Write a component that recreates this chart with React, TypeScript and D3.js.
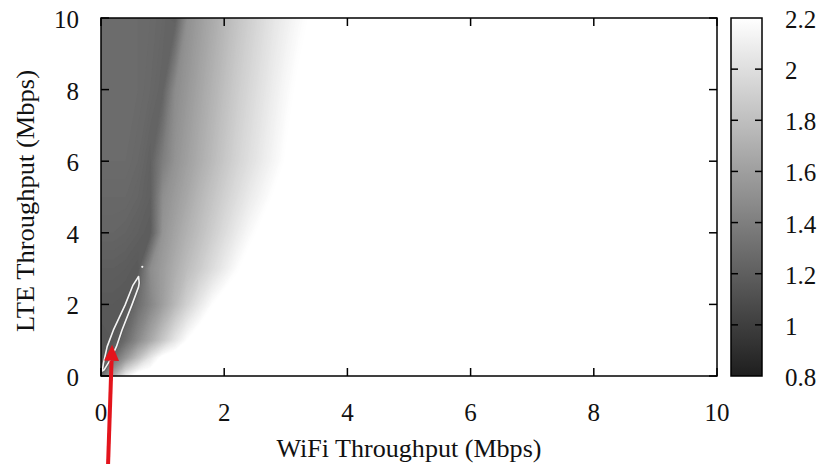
import React from 'react';
import * as d3 from 'd3';

const W = 822;
const H = 464;

// axis ticks
const xTicks = [0, 2, 4, 6, 8, 10];
const yTicks = [0, 2, 4, 6, 8, 10];
const cbTicks = [0.8, 1, 1.2, 1.4, 1.6, 1.8, 2, 2.2];

// heat-map sampling grid (WiFi along x, LTE along y)
const gridWifi = [0, 0.2, 0.4, 0.6, 0.8, 1.0, 1.2, 1.4, 1.6, 1.8, 2.0, 2.2, 2.4, 2.6, 2.8, 3.0, 3.2, 3.4, 3.6];
const gridLte = [0, 0.5, 1, 2, 3, 4, 5, 6, 8, 10];

const rowLte0 = [1.30, 1.70, 2.10, 2.30, 2.30, 2.30, 2.30, 2.30, 2.30, 2.30, 2.30, 2.30, 2.30, 2.30, 2.30, 2.30, 2.30, 2.30, 2.30];
const rowLte05 = [1.15, 1.30, 1.55, 1.80, 2.05, 2.25, 2.30, 2.30, 2.30, 2.30, 2.30, 2.30, 2.30, 2.30, 2.30, 2.30, 2.30, 2.30, 2.30];
const rowLte1 = [1.15, 1.16, 1.29, 1.48, 1.66, 1.85, 2.04, 2.20, 2.30, 2.30, 2.30, 2.30, 2.30, 2.30, 2.30, 2.30, 2.30, 2.30, 2.30];
const rowLte2 = [1.17, 1.17, 1.16, 1.30, 1.45, 1.60, 1.76, 1.92, 2.06, 2.19, 2.28, 2.30, 2.30, 2.30, 2.30, 2.30, 2.30, 2.30, 2.30];
const rowLte3 = [1.20, 1.20, 1.19, 1.17, 1.49, 1.59, 1.69, 1.79, 1.88, 1.98, 2.08, 2.18, 2.26, 2.30, 2.30, 2.30, 2.30, 2.30, 2.30];
const rowLte4 = [1.24, 1.24, 1.23, 1.21, 1.19, 1.54, 1.63, 1.72, 1.80, 1.89, 1.98, 2.07, 2.16, 2.23, 2.30, 2.30, 2.30, 2.30, 2.30];
const rowLte5 = [1.26, 1.26, 1.26, 1.24, 1.21, 1.50, 1.58, 1.66, 1.75, 1.83, 1.91, 1.99, 2.07, 2.14, 2.21, 2.27, 2.30, 2.30, 2.30];
const rowLte6 = [1.28, 1.28, 1.28, 1.26, 1.22, 1.40, 1.53, 1.61, 1.69, 1.77, 1.85, 1.93, 2.00, 2.07, 2.14, 2.21, 2.26, 2.30, 2.30];
const rowLte8 = [1.28, 1.28, 1.28, 1.28, 1.26, 1.23, 1.48, 1.56, 1.64, 1.72, 1.80, 1.88, 1.95, 2.02, 2.09, 2.16, 2.22, 2.26, 2.30];
const rowLte10 = [1.28, 1.28, 1.28, 1.28, 1.27, 1.25, 1.21, 1.51, 1.59, 1.67, 1.75, 1.83, 1.90, 1.97, 2.04, 2.10, 2.16, 2.21, 2.25];

// white iso-line loop (WiFi, LTE)
const isoWifi = [0.61, 0.62, 0.61, 0.50, 0.34, 0.25, 0.15, 0.05, 0.02, 0.04, 0.10, 0.20, 0.39, 0.52];
const isoLte = [2.78, 2.60, 2.49, 1.98, 1.28, 0.82, 0.45, 0.17, 0.14, 0.36, 0.82, 1.28, 1.98, 2.54];
const isoDot = [0.67, 3.05];

// red annotation arrow (tail, tip) in data units
const arrowTail = [0.115, -2.46];
const arrowTip = [0.18, 0.87];

const FONT = '"Liberation Serif", "Times New Roman", serif';

export default function App() {
  const left = 101, right = 717, top = 18, bottom = 376;
  const cbLeft = 731, cbRight = 762;

  const x = d3.scaleLinear().domain([0, 10]).range([left, right]);
  const y = d3.scaleLinear().domain([0, 10]).range([bottom, top]);
  const cbY = d3.scaleLinear().domain([0.8, 2.2]).range([bottom, top]);
  const color = d3.scaleLinear<string>().domain([0.8, 2.2]).range(['#1e1e1e', '#ffffff']).clamp(true);

  const rows = [rowLte0, rowLte05, rowLte1, rowLte2, rowLte3, rowLte4, rowLte5, rowLte6, rowLte8, rowLte10];
  const nx = gridWifi.length;
  const ny = gridLte.length;
  const values: number[] = [];
  rows.forEach((r) => r.forEach((v) => values.push(v)));

  const ix = d3.scaleLinear().domain(d3.range(nx)).range(gridWifi).clamp(true);
  const iy = d3.scaleLinear().domain(d3.range(ny)).range(gridLte).clamp(true);
  const thresholds = d3.range(110, 221, 1).map((t) => t / 100);
  const contours = d3.contours().size([nx, ny]).thresholds(thresholds)(values);
  const proj = d3.geoTransform({
    point: function (this: any, gx: number, gy: number) {
      this.stream.point(x(ix(gx - 0.5)), y(iy(gy - 0.5)));
    },
  });
  const path = d3.geoPath(proj as any);

  const isoPts = isoWifi.map((w, i) => [x(w), y(isoLte[i])] as [number, number]);
  const isoPath = d3.line().curve(d3.curveLinearClosed)(isoPts) || '';

  // arrow geometry
  const tx = x(arrowTip[0]), ty = y(arrowTip[1]);
  const sx = x(arrowTail[0]), sy = y(arrowTail[1]);
  const len = Math.hypot(tx - sx, ty - sy);
  const ux = (tx - sx) / len, uy = (ty - sy) / len;
  const headLen = 16, headHalf = 7.5;
  const bx = tx - ux * headLen, by = ty - uy * headLen;
  const headPts = [
    [tx, ty],
    [bx - uy * headHalf, by + ux * headHalf],
    [bx + uy * headHalf, by - ux * headHalf],
  ].map((p) => p.join(',')).join(' ');

  const tickLen = 8;
  const gridEndX = x(gridWifi[gridWifi.length - 1]);

  return (
    <svg width={W} height={H} style={{ position: 'absolute', left: 0, top: 0, background: '#fff' }} fontFamily={FONT}>
      <defs>
        <clipPath id="plotClip">
          <rect x={left} y={top} width={right - left} height={bottom - top} />
        </clipPath>
        <linearGradient id="cbGrad" x1="0" y1="1" x2="0" y2="0">
          {d3.range(0, 1.0001, 0.1).map((f) => (
            <stop key={f} offset={f} stopColor={color(0.8 + f * 1.4)} />
          ))}
        </linearGradient>
      </defs>

      {/* heat map */}
      <g clipPath="url(#plotClip)">
        <rect x={left} y={top} width={right - left} height={bottom - top} fill="#ffffff" />
        <rect x={left} y={top} width={gridEndX - left} height={bottom - top} fill={color(1.1)} />
        {contours.map((c, i) => (
          <path key={i} d={path(c as any) || ''} fill={color(c.value + 0.005)} stroke="none" />
        ))}
        <path d={isoPath} fill="none" stroke="#555" strokeWidth={3} strokeLinejoin="round" opacity={0.5} />
        <path d={isoPath} fill="none" stroke="#f4f4f4" strokeWidth={1.6} strokeLinejoin="round" />
        <circle cx={x(isoDot[0])} cy={y(isoDot[1])} r={1.1} fill="#f4f4f4" />
      </g>

      {/* frame */}
      <rect x={left} y={top} width={right - left} height={bottom - top} fill="none" stroke="#000" strokeWidth={1.5} />
      {xTicks.map((t) => (
        <g key={'xt' + t}>
          <line x1={x(t)} x2={x(t)} y1={bottom} y2={bottom - tickLen} stroke="#000" strokeWidth={1.5} />
          <line x1={x(t)} x2={x(t)} y1={top} y2={top + tickLen} stroke="#000" strokeWidth={1.5} />
          <text x={x(t)} y={421} fontSize={25} textAnchor="middle" fill="#111">{t}</text>
        </g>
      ))}
      {yTicks.map((t) => (
        <g key={'yt' + t}>
          <line x1={left} x2={left + tickLen} y1={y(t)} y2={y(t)} stroke="#000" strokeWidth={1.5} />
          <line x1={right} x2={right - tickLen} y1={y(t)} y2={y(t)} stroke="#000" strokeWidth={1.5} />
          <text x={79} y={y(t) + 10} fontSize={25} textAnchor="end" fill="#111">{t}</text>
        </g>
      ))}

      <text x={409} y={457} fontSize={26} textAnchor="middle" fill="#111" textLength={265} lengthAdjust="spacingAndGlyphs">
        WiFi Throughput (Mbps)
      </text>
      <text transform={`translate(34,201) rotate(-90)`} fontSize={26} textAnchor="middle" fill="#111" textLength={262} lengthAdjust="spacingAndGlyphs">
        LTE Throughput (Mbps)
      </text>

      {/* colour bar */}
      <rect x={cbLeft} y={top} width={cbRight - cbLeft} height={bottom - top} fill="url(#cbGrad)" stroke="#000" strokeWidth={1.5} />
      {cbTicks.map((t) => (
        <g key={'cb' + t}>
          {t > 0.8 && t < 2.2 && (
            <>
              <line x1={cbLeft} x2={cbLeft + 7} y1={cbY(t)} y2={cbY(t)} stroke="#000" strokeWidth={1.5} />
              <line x1={cbRight} x2={cbRight - 7} y1={cbY(t)} y2={cbY(t)} stroke="#000" strokeWidth={1.5} />
            </>
          )}
          <text x={785} y={cbY(t) + 10} fontSize={25} textAnchor="start" fill="#111">{t}</text>
        </g>
      ))}

      {/* annotation arrow */}
      <line x1={sx} y1={sy} x2={bx} y2={by} stroke="#e3141c" strokeWidth={4} />
      <polygon points={headPts} fill="#e3141c" />
    </svg>
  );
}
